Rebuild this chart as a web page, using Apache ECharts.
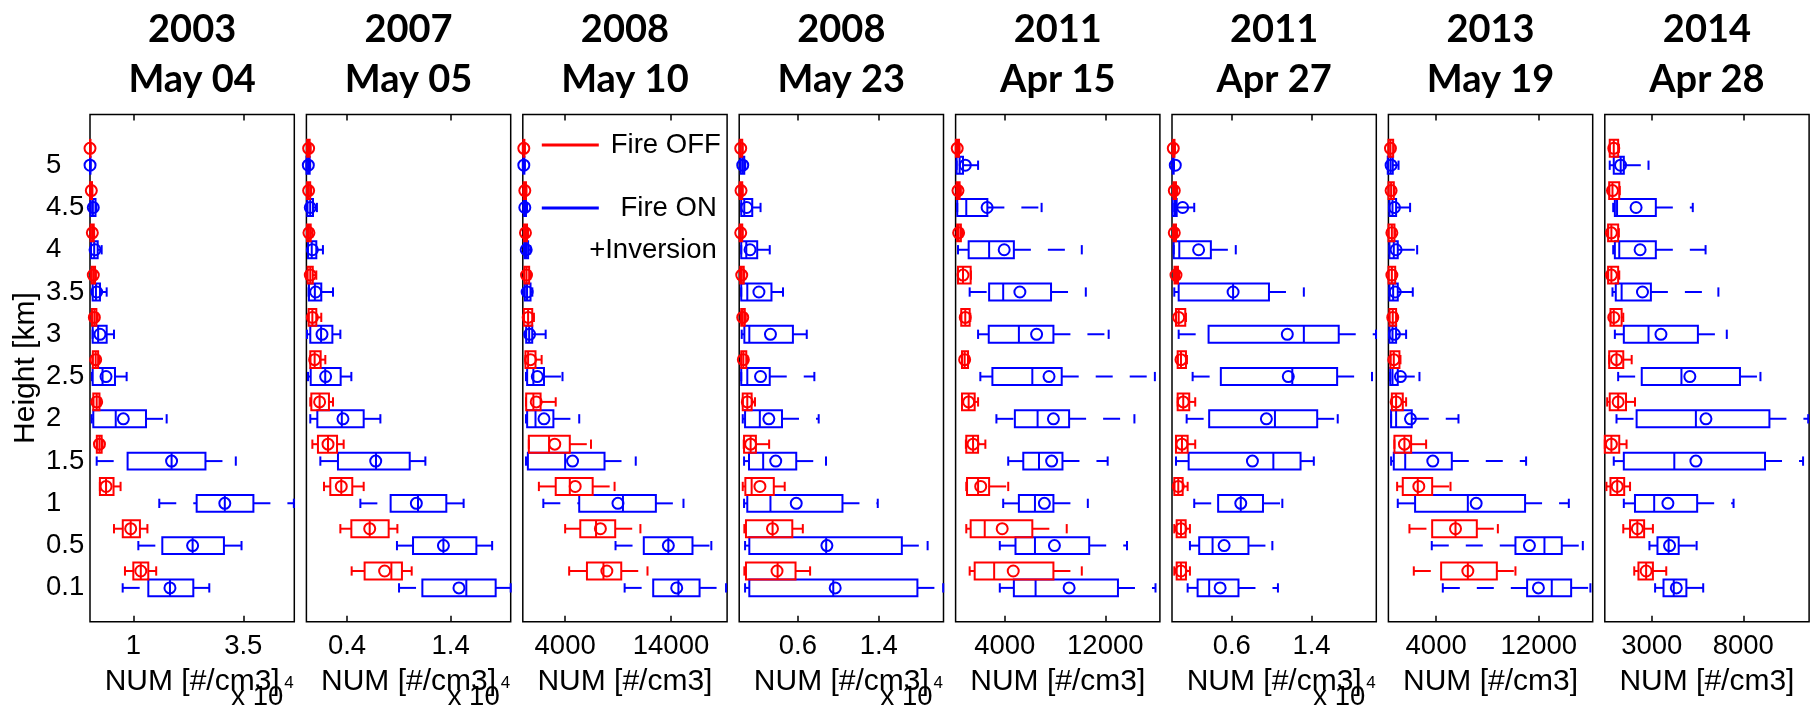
<!DOCTYPE html>
<html>
<head>
<meta charset="utf-8">
<script src="https://cdn.jsdelivr.net/npm/echarts@6/dist/echarts.min.js"></script>
<style>
  html, body { margin: 0; padding: 0; background: #fff; }
  #chart { width: 1814px; height: 707px; }
</style>
</head>
<body>
<div id="chart"></div>
<script>
// Height levels (km), bottom to top
const heightLabels = ['0.1', '0.5', '1', '1.5', '2', '2.5', '3', '3.5', '4', '4.5', '5'];

// Case dates, one panel each
const panelYears = ['2003', '2007', '2008', '2008', '2011', '2011', '2013', '2014'];
const panelDays = ['May 04', 'May 05', 'May 10', 'May 23', 'Apr 15', 'Apr 27', 'May 19', 'Apr 28'];

// x-axis ticks and limits (#/cm3); panels with exponent 4 are labelled in units of 10^4
const xTickValues = [[10000, 35000], [4000, 14000], [4000, 14000], [6000, 14000], [4000, 12000], [6000, 14000], [4000, 12000], [3000, 8000]];
const xLimits = [[150, 46600], [85, 19790], [0, 19300], [200, 20400], [80, 16350], [0, 20500], [280, 16200], [430, 11600]];
const xExponent = [4, 4, 0, 4, 0, 4, 0, 0];

// Box statistics per height level: [min, q1, median, q3, max, mean] in #/cm3
const fireOff_20030504 = [
  [8100, 10000, 11700, 13400, 15200, 11700], [5600, 7600, 9400, 11500, 13200, 9400],
  [2400, 2400, 3800, 5500, 7100, 3800], [1700, 1700, 2300, 2800, 3000, 2300],
  [900, 900, 1670, 2300, 2500, 1670], [700, 800, 1440, 2000, 2200, 1440],
  [500, 600, 1140, 1600, 1900, 1140], [400, 500, 900, 1300, 1500, 900],
  [300, 300, 680, 1000, 1100, 680], [200, 200, 450, 600, 700, 450],
  [150, 150, 150, 250, 300, 150]
];
const fireOn_20030504 = [
  [7580, 13410, 18330, 23640, 27270, 18330], [11140, 16590, 23480, 30600, 34600, 23480],
  [15900, 24400, 30800, 37300, 46500, 30800], [1670, 8700, 18700, 26400, 33300, 18700],
  [530, 900, 6000, 12880, 17580, 7730], [600, 760, 3000, 5830, 8480, 3790],
  [760, 760, 2000, 3940, 5600, 2420], [760, 760, 1500, 2420, 3940, 1670],
  [380, 380, 1100, 1900, 2800, 1300], [300, 300, 800, 1400, 1600, 900],
  [150, 150, 150, 200, 300, 160]
];
const fireOff_20070505 = [
  [4450, 5700, 8280, 9300, 10240, 7630], [3360, 4420, 6190, 8020, 8860, 6190],
  [1780, 2390, 3450, 4510, 5610, 3450], [660, 1200, 2170, 3040, 3680, 2170],
  [460, 560, 1360, 2260, 2650, 1360], [460, 460, 880, 1460, 1910, 880],
  [300, 300, 660, 1040, 1520, 660], [100, 200, 460, 700, 1040, 460],
  [150, 150, 330, 500, 650, 330], [150, 150, 300, 450, 550, 300],
  [150, 150, 300, 400, 500, 300]
];
const fireOn_20070505 = [
  [9020, 11270, 15510, 18340, 19790, 14800], [8820, 10370, 13300, 16480, 18000, 13300],
  [5290, 8210, 10850, 13580, 15250, 10690], [1430, 3130, 6800, 10050, 11560, 6770],
  [460, 1140, 3500, 5610, 7220, 3610], [240, 500, 1900, 3390, 4420, 1940],
  [140, 460, 1500, 2590, 3360, 1590], [300, 330, 900, 1520, 2650, 980],
  [240, 240, 600, 1040, 1680, 660], [170, 170, 450, 720, 1100, 460],
  [100, 100, 250, 400, 450, 270]
];
const fireOff_20080510 = [
  [4380, 6060, 7620, 9300, 11780, 7940], [4000, 5430, 6920, 8730, 11110, 7330],
  [1520, 3110, 4440, 6600, 8670, 4950], [570, 570, 2480, 4440, 6440, 3020],
  [300, 320, 1000, 1680, 3110, 1270], [250, 250, 500, 1200, 1780, 730],
  [95, 95, 500, 890, 1050, 510], [100, 150, 350, 600, 700, 350],
  [100, 100, 250, 400, 500, 250], [50, 80, 190, 300, 350, 190],
  [0, 50, 95, 150, 200, 95]
];
const fireOn_20080510 = [
  [9620, 12320, 14700, 16700, 19200, 14540], [8760, 11430, 13750, 16030, 17810, 13750],
  [1940, 5330, 9460, 12570, 15180, 8990], [300, 480, 4000, 7720, 10670, 4700],
  [300, 410, 1200, 2890, 5330, 2000], [300, 410, 1000, 2000, 3750, 1370],
  [300, 320, 600, 890, 2160, 640], [100, 190, 400, 730, 900, 410],
  [100, 150, 300, 500, 700, 320], [50, 100, 190, 300, 400, 190],
  [0, 50, 95, 150, 200, 95]
];
const fireOff_20080523 = [
  [710, 870, 4000, 5770, 7210, 3940], [710, 870, 3500, 5450, 6490, 3490],
  [550, 810, 1430, 3620, 4700, 2250], [650, 680, 1330, 1850, 3160, 1330],
  [550, 550, 1000, 1430, 1760, 1000], [400, 400, 610, 900, 1000, 610],
  [350, 400, 550, 750, 850, 550], [300, 300, 450, 650, 700, 450],
  [250, 250, 350, 500, 550, 350], [250, 250, 380, 500, 550, 380],
  [250, 250, 350, 500, 550, 350]
];
const fireOn_20080523 = [
  [780, 1200, 9500, 17820, 20370, 9690], [780, 1200, 8800, 16280, 18830, 8870],
  [680, 1000, 3290, 10410, 13900, 5840], [680, 1170, 2570, 5840, 8780, 3810],
  [550, 780, 2240, 4430, 8060, 3130], [400, 400, 1000, 3220, 7630, 2310],
  [450, 710, 1200, 5510, 6880, 3290], [400, 400, 1000, 3390, 4530, 2150],
  [400, 400, 900, 1980, 3220, 1270], [400, 400, 700, 1490, 2310, 940],
  [300, 350, 550, 700, 800, 550]
];
const fireOff_20110415 = [
  [1200, 1600, 3150, 7870, 10130, 4670], [930, 1280, 2400, 6190, 8930, 3790],
  [930, 990, 1870, 2750, 4270, 2080], [900, 930, 1470, 1870, 2450, 1470],
  [590, 590, 1120, 1600, 1870, 1120], [590, 590, 800, 1070, 1100, 800],
  [530, 530, 850, 1200, 1250, 850], [270, 270, 670, 1280, 1300, 670],
  [160, 200, 320, 500, 600, 320], [160, 160, 270, 400, 500, 270],
  [100, 100, 210, 350, 400, 210]
];
const fireOn_20110415 = [
  [3600, 4720, 6450, 13010, 16000, 9120], [3600, 4850, 6400, 10720, 13730, 7950],
  [3870, 5120, 6400, 7870, 10610, 7150], [4270, 5470, 6720, 8590, 12190, 7730],
  [3330, 4800, 6610, 9120, 14320, 7870], [2050, 3010, 6190, 8530, 15950, 7520],
  [1870, 2720, 5120, 7870, 12270, 6530], [1200, 2750, 3870, 7680, 10450, 5200],
  [270, 1120, 2750, 4720, 10130, 3950], [210, 210, 930, 2610, 6930, 2590],
  [160, 160, 400, 670, 1870, 850]
];
const fireOff_20110427 = [
  [230, 470, 900, 1400, 1800, 900], [230, 470, 900, 1370, 1800, 900],
  [230, 230, 630, 1070, 1570, 630], [400, 400, 1000, 1570, 2330, 1000],
  [570, 570, 1130, 1730, 2330, 1130], [570, 570, 900, 1400, 1500, 900],
  [400, 400, 670, 1330, 1400, 670], [200, 250, 400, 600, 700, 400],
  [100, 150, 230, 400, 500, 230], [100, 150, 230, 400, 500, 230],
  [50, 80, 130, 250, 300, 130]
];
const fireOn_20110427 = [
  [1570, 2570, 3730, 6670, 10630, 4830], [1800, 2730, 4070, 7670, 10070, 5230],
  [2230, 4630, 6900, 9130, 11070, 6900], [400, 1670, 10170, 12900, 14230, 8070],
  [1470, 3730, 10330, 14570, 16630, 9470], [2070, 4900, 12070, 16570, 20070, 11670],
  [670, 3670, 13230, 16730, 20470, 11570], [230, 670, 6130, 9730, 13230, 6130],
  [170, 170, 730, 3900, 6400, 2670], [70, 70, 300, 470, 2230, 1070],
  [70, 70, 100, 170, 200, 330]
];
const fireOff_20130519 = [
  [2260, 4390, 6470, 8730, 10180, 6470], [1920, 3690, 5510, 7170, 8810, 5510],
  [960, 1400, 2570, 3690, 5120, 2650], [750, 750, 1530, 2050, 3220, 1530],
  [550, 550, 880, 1400, 1660, 880], [440, 440, 700, 1140, 1220, 700],
  [360, 360, 620, 880, 950, 620], [290, 290, 550, 810, 850, 550],
  [290, 290, 550, 750, 800, 550], [290, 290, 490, 700, 750, 490],
  [290, 290, 440, 650, 700, 440]
];
const fireOn_20130519 = [
  [4520, 11090, 13010, 14520, 16020, 11970], [3660, 10180, 12440, 13790, 15430, 11270],
  [1010, 2360, 6470, 10930, 14340, 7120], [490, 700, 1590, 5220, 11010, 3740],
  [490, 490, 880, 2100, 5740, 2000], [420, 420, 600, 1010, 2700, 1220],
  [360, 360, 600, 880, 1660, 750], [360, 360, 650, 1010, 2180, 810],
  [360, 360, 700, 1010, 2520, 880], [360, 360, 600, 880, 1970, 750],
  [230, 230, 450, 620, 1070, 490]
];
const fireOff_20140428 = [
  [2040, 2270, 2690, 3060, 3790, 2690], [1440, 1810, 2210, 2580, 3060, 2210],
  [520, 740, 1110, 1490, 1810, 1110], [430, 430, 790, 1220, 1620, 790],
  [560, 700, 1160, 1590, 2080, 1160], [670, 670, 1070, 1440, 1900, 1070],
  [740, 740, 920, 1350, 1440, 920], [610, 610, 790, 1160, 1220, 790],
  [610, 610, 790, 1160, 1200, 790], [670, 670, 850, 1220, 1250, 850],
  [700, 700, 920, 1160, 1200, 920]
];
const fireOn_20140428 = [
  [3180, 3640, 4200, 4890, 5810, 4340], [2870, 3310, 3920, 4470, 5450, 3970],
  [1470, 2080, 3130, 5480, 7470, 3880], [920, 1470, 4230, 9190, 11270, 5410],
  [1070, 2170, 5410, 9430, 11550, 5960], [1160, 2450, 4620, 7820, 8940, 5080],
  [980, 1470, 2820, 5520, 7100, 3500], [850, 1030, 1350, 2950, 6640, 2490],
  [890, 980, 1220, 3220, 5940, 2360], [890, 980, 1100, 3220, 5240, 2140],
  [700, 920, 1300, 1470, 2820, 1290]
];

const fireOffSets = [fireOff_20030504, fireOff_20070505, fireOff_20080510, fireOff_20080523,
                     fireOff_20110415, fireOff_20110427, fireOff_20130519, fireOff_20140428];
const fireOnSets = [fireOn_20030504, fireOn_20070505, fireOn_20080510, fireOn_20080523,
                    fireOn_20110415, fireOn_20110427, fireOn_20130519, fireOn_20140428];

// ---- layout ----
const FONT = "'Liberation Sans', Arial, sans-serif";
const RED = '#ff0000';
const BLUE = '#0000ff';
const GRID_TOP = 114.5;
const GRID_H = 507.2;
const GRID_LEFT0 = 90;
const GRID_STEP = 216.4;
const GRID_W = 204.3;
const OFF_SHIFT = 0.4;       // Fire OFF boxes sit above the level's Fire ON box
const Y_MIN = -0.8, Y_MAX = 11.2;

// Horizontal box plot drawn with dashed whiskers, end caps, median bar and mean circle
function boxRenderer(color) {
  return function (params, api) {
    const y = api.value(0);
    const X = v => api.coord([v, y])[0];
    const cy = api.coord([api.value(2), y])[1];
    const step = api.size([0, 1])[1];
    const hb = step * 0.2;
    const hc = step * 0.11;
    const xMin = X(api.value(1)), xQ1 = X(api.value(2)), xMd = X(api.value(3));
    const xQ3 = X(api.value(4)), xMax = X(api.value(5)), xMean = X(api.value(6));
    const solid = { stroke: color, lineWidth: 2, fill: null };
    const dashed = { stroke: color, lineWidth: 2, fill: null, lineDash: [17, 17] };
    const kids = [];
    if (xQ1 - xMin > 0.5) {
      kids.push({ type: 'line', shape: { x1: xMin, y1: cy, x2: xQ1, y2: cy }, style: dashed });
    }
    if (xMax - xQ3 > 0.5) {
      kids.push({ type: 'line', shape: { x1: xQ3, y1: cy, x2: xMax, y2: cy }, style: dashed });
    }
    kids.push({ type: 'line', shape: { x1: xMin, y1: cy - hc, x2: xMin, y2: cy + hc }, style: solid });
    kids.push({ type: 'line', shape: { x1: xMax, y1: cy - hc, x2: xMax, y2: cy + hc }, style: solid });
    kids.push({ type: 'rect', shape: { x: xQ1, y: cy - hb, width: Math.max(xQ3 - xQ1, 0.5), height: 2 * hb }, style: solid });
    kids.push({ type: 'line', shape: { x1: xMd, y1: cy - hb, x2: xMd, y2: cy + hb }, style: solid });
    kids.push({ type: 'circle', shape: { cx: xMean, cy: cy, r: 5.5 }, style: solid });
    return { type: 'group', children: kids };
  };
}

const grids = [], xAxes = [], yAxes = [], series = [], graphics = [];

for (let p = 0; p < 8; p++) {
  const left = GRID_LEFT0 + GRID_STEP * p;
  const right = left + GRID_W;
  const cx = left + GRID_W / 2;
  grids.push({
    left: left, top: GRID_TOP, width: GRID_W, height: GRID_H,
    show: true, borderColor: '#000', borderWidth: 1.5, backgroundColor: 'transparent'
  });
  const exp = xExponent[p];
  const ticks = xTickValues[p];
  // bottom axis with labels
  xAxes.push({
    type: 'value', gridIndex: p, position: 'bottom',
    min: xLimits[p][0], max: xLimits[p][1],
    axisLine: { show: false, onZero: false },
    splitLine: { show: false },
    axisTick: { show: true, inside: true, length: 6, customValues: ticks, lineStyle: { color: '#000', width: 1.5 } },
    axisLabel: {
      customValues: ticks, margin: 25, verticalAlign: 'middle',
      color: '#000', fontSize: 27.5, fontFamily: FONT,
      formatter: v => exp ? String(+(v / Math.pow(10, exp)).toFixed(2)) : String(v)
    },
    name: 'NUM [#/cm3]', nameLocation: 'middle', nameGap: 60,
    nameTextStyle: { color: '#000', fontSize: 30, fontFamily: FONT, verticalAlign: 'middle' }
  });
  // top axis mirrors the tick marks inside the frame
  xAxes.push({
    type: 'value', gridIndex: p, position: 'top',
    min: xLimits[p][0], max: xLimits[p][1],
    axisLine: { show: false, onZero: false }, splitLine: { show: false },
    axisTick: { show: true, inside: true, length: 6, customValues: ticks, lineStyle: { color: '#000', width: 1.5 } },
    axisLabel: { show: false }
  });
  const yAxis = {
    type: 'value', gridIndex: p, min: Y_MIN, max: Y_MAX,
    axisLine: { show: false, onZero: false }, axisTick: { show: false }, splitLine: { show: false },
    axisLabel: { show: false }
  };
  if (p === 0) {
    yAxis.axisLabel = {
      show: true, customValues: [0, 1, 2, 3, 4, 5, 6, 7, 8, 9, 10],
      formatter: v => heightLabels[Math.round(v)],
      align: 'left', margin: 44, verticalAlign: 'middle',
      color: '#000', fontSize: 27.5, fontFamily: FONT
    };
    yAxis.name = 'Height [km]';
    yAxis.nameLocation = 'middle';
    yAxis.nameRotate = 90;
    yAxis.nameGap = 64;
    yAxis.nameTextStyle = { color: '#000', fontSize: 30, fontFamily: FONT, verticalAlign: 'middle' };
  }
  yAxes.push(yAxis);

  series.push({
    type: 'custom', name: 'Fire ON +Inversion', xAxisIndex: 2 * p, yAxisIndex: p,
    renderItem: boxRenderer(BLUE), silent: true, animation: false,
    encode: { x: [1, 2, 3, 4, 5, 6], y: 0 },
    data: fireOnSets[p].map((r, i) => [i].concat(r))
  });
  series.push({
    type: 'custom', name: 'Fire OFF', xAxisIndex: 2 * p, yAxisIndex: p,
    renderItem: boxRenderer(RED), silent: true, animation: false,
    encode: { x: [1, 2, 3, 4, 5, 6], y: 0 },
    data: fireOffSets[p].map((r, i) => [i + OFF_SHIFT].concat(r))
  });

  // panel title: year over date
  graphics.push({
    type: 'text', x: cx, y: 30,
    style: { text: panelYears[p], align: 'center', verticalAlign: 'middle', textAlign: 'center', textVerticalAlign: 'middle',
             font: "bold 38px Lato, 'Open Sans', sans-serif", fill: '#000' }
  });
  graphics.push({
    type: 'text', x: cx, y: 80,
    style: { text: panelDays[p], align: 'center', verticalAlign: 'middle', textAlign: 'center', textVerticalAlign: 'middle',
             font: "bold 38px Lato, 'Open Sans', sans-serif", fill: '#000' }
  });

  // axis multiplier "x 10^4"
  if (exp) {
    graphics.push({
      type: 'text', x: right - 11, y: 697,
      style: { text: 'x 10', align: 'right', verticalAlign: 'middle', textAlign: 'right', textVerticalAlign: 'middle',
               font: '27.5px ' + FONT, fill: '#000' }
    });
    graphics.push({
      type: 'text', x: right - 10, y: 683,
      style: { text: String(exp), align: 'left', verticalAlign: 'middle', textAlign: 'left', textVerticalAlign: 'middle',
               font: '17px ' + FONT, fill: '#000' }
    });
  }
}

// legend inside the third panel
const legLeft = GRID_LEFT0 + GRID_STEP * 2;
const legendItems = [
  { type: 'line', shape: { x1: legLeft + 19, y1: 145, x2: legLeft + 76, y2: 145 }, style: { stroke: RED, lineWidth: 3 } },
  { type: 'text', x: legLeft + 88, y: 145,
    style: { text: 'Fire OFF', align: 'left', verticalAlign: 'middle', textAlign: 'left', textVerticalAlign: 'middle', font: '27.5px ' + FONT, fill: '#000' } },
  { type: 'line', shape: { x1: legLeft + 19, y1: 208, x2: legLeft + 76, y2: 208 }, style: { stroke: BLUE, lineWidth: 3 } },
  { type: 'text', x: legLeft + 194, y: 208,
    style: { text: 'Fire ON', align: 'right', verticalAlign: 'middle', textAlign: 'right', textVerticalAlign: 'middle', font: '27.5px ' + FONT, fill: '#000' } },
  { type: 'text', x: legLeft + 194, y: 250,
    style: { text: '+Inversion', align: 'right', verticalAlign: 'middle', textAlign: 'right', textVerticalAlign: 'middle', font: '27.5px ' + FONT, fill: '#000' } }
];
legendItems.forEach(g => graphics.push(g));

const chart = echarts.init(document.getElementById('chart'), null, { renderer: 'canvas' });
chart.setOption({
  backgroundColor: '#fff',
  animation: false,
  grid: grids,
  xAxis: xAxes,
  yAxis: yAxes,
  series: series,
  graphic: graphics
});
</script>
</body>
</html>
